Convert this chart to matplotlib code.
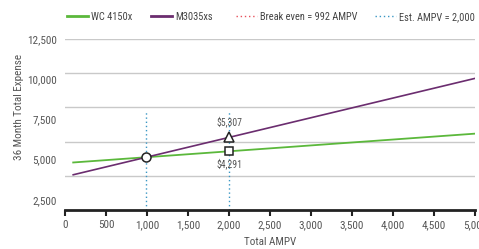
import matplotlib
matplotlib.use("Agg")
import matplotlib.pyplot as plt
from matplotlib.lines import Line2D

plt.rcParams["font.family"] = ["Roboto Condensed", "Archivo Narrow", "Liberation Sans Narrow", "DejaVu Sans"]

# data
ampv = [100, 5000]
wc_4150x = [3474, 5581]
m3035xs = [2575, 9621]

break_even_ampv = 992
break_even_cost = 3858
est_ampv = 2000
est_wc = 4291
est_m = 5307

x_ticks = [0, 500, 1000, 1500, 2000, 2500, 3000, 3500, 4000, 4500, 5000]
grid_y = [2500, 5000, 7500, 10000, 12500]
y_tick_labels = ["12,500", "10,000", "7,500", "5,000", "2,500"]

GREEN = "#5bb83b"
PURPLE = "#6b2d6f"
BLUE = "#3a97c4"
RED = "#e8505b"
GRAY = "#555555"

fig = plt.figure(figsize=(4.79, 2.49), dpi=100)
ax = fig.add_axes([65 / 479, 39 / 249, 410 / 479, 171 / 249])

# gridlines
for g in grid_y:
    ax.axhline(g, color="#c9c9c9", lw=1.0, zorder=0)

# guide lines (drawn up to ~7,250)
ax.plot([break_even_ampv, break_even_ampv], [0, 7250], color=BLUE, lw=1.0, ls=(0, (1, 2)), zorder=1)
ax.plot([est_ampv, est_ampv], [0, 7250], color=BLUE, lw=1.0, ls=(0, (1, 2)), zorder=1)

ax.plot(ampv, wc_4150x, color=GREEN, lw=1.3, zorder=2)
ax.plot(ampv, m3035xs, color=PURPLE, lw=1.2, zorder=2)

ax.plot(break_even_ampv, break_even_cost, "o", ms=6.5, mfc="white", mec="#222222", mew=1.1, zorder=3)
ax.plot(est_ampv, est_m, "^", ms=7, mfc="white", mec="#222222", mew=1.1, zorder=3)
ax.plot(est_ampv, est_wc, "s", ms=6, mfc="white", mec="#222222", mew=1.1, zorder=3)

ax.annotate(f"${est_m:,}", (est_ampv, est_m), xytext=(0, 7), textcoords="offset points",
            ha="center", va="bottom", fontsize=7, color=GRAY)
ax.annotate(f"${est_wc:,}", (est_ampv, est_wc), xytext=(0, -5), textcoords="offset points",
            ha="center", va="top", fontsize=7, color=GRAY)

ax.set_xlim(0, 5000)
ax.set_ylim(0, 12500)
ax.set_xticks(x_ticks)
ax.set_xticklabels([f"{t:,}" for t in x_ticks], fontsize=8, color=GRAY)

# the y labels sit evenly spaced from the top gridline, as in the source
label_pos = [12500 - i * 2940 for i in range(len(y_tick_labels))]
ax.set_yticks(label_pos)
ax.set_yticklabels(y_tick_labels, fontsize=8, color=GRAY)
ax.tick_params(axis="y", length=0, pad=6)
ax.tick_params(axis="x", length=4, width=1.5, color="#222222", pad=3)

for s in ["top", "right", "left"]:
    ax.spines[s].set_visible(False)
ax.spines["bottom"].set_linewidth(2)
ax.spines["bottom"].set_color("#222222")

ax.set_xlabel("Total AMPV", fontsize=8, color=GRAY)
ax.xaxis.set_label_coords(0.5, -0.155)
ax.set_ylabel("36 Month Total Expense", fontsize=8, color=GRAY)
ax.yaxis.set_label_coords(-0.1, 0.6)

# legend entries, each placed where the source puts it
handles = [
    Line2D([], [], color=GREEN, lw=2),
    Line2D([], [], color=PURPLE, lw=2),
    Line2D([], [], color=RED, lw=1, ls=(0, (1, 2))),
    Line2D([], [], color=BLUE, lw=1, ls=(0, (1, 2))),
]
labels = ["WC 4150x", "M3035xs", f"Break even = {break_even_ampv} AMPV", f"Est. AMPV = {est_ampv:,}"]
legend_x = [67, 151, 236, 375]
for h, lab, lx in zip(handles, labels, legend_x):
    fig.legend([h], [lab], loc="center left", bbox_to_anchor=(lx / 479, 1 - 17 / 249),
               frameon=False, fontsize=7.5, handlelength=2.0, handletextpad=0.3,
               borderpad=0, borderaxespad=0, labelcolor="#444444")

fig.savefig("out.png", dpi=100)
